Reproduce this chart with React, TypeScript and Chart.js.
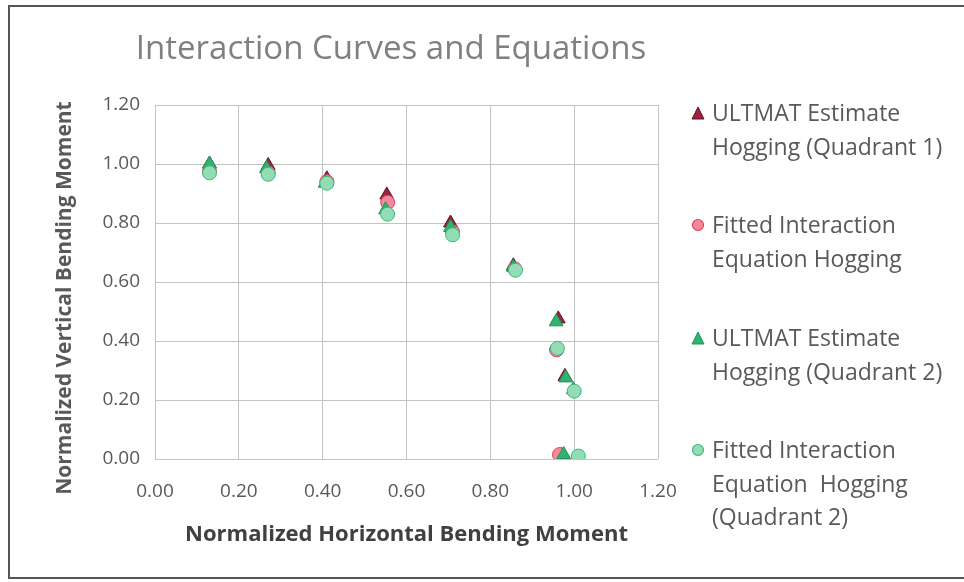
import React, { useEffect, useRef } from "react";
import { Chart, registerables } from "chart.js";

Chart.register(...registerables);

const chartTitle = "Interaction Curves and Equations";
const xAxisTitle = "Normalized Horizontal Bending Moment";
const yAxisTitle = "Normalized Vertical Bending Moment";

const axisMin = 0;
const axisMax = 1.2;
const axisStep = 0.2;

// ULTMAT Estimate Hogging (Quadrant 1)
const q1UltX = [0.13, 0.27, 0.41, 0.553, 0.705, 0.855, 0.962, 0.978, 0.97];
const q1UltY = [1.0, 0.995, 0.95, 0.895, 0.8, 0.655, 0.475, 0.28, 0.012];

// Fitted Interaction Equation Hogging
const q1FitX = [0.13, 0.27, 0.41, 0.555, 0.71, 0.858, 0.958, 0.965];
const q1FitY = [0.975, 0.97, 0.94, 0.87, 0.77, 0.645, 0.37, 0.015];

// ULTMAT Estimate Hogging (Quadrant 2)
const q2UltX = [0.13, 0.266, 0.406, 0.55, 0.705, 0.855, 0.957, 0.98, 0.998, 0.975];
const q2UltY = [1.0, 0.985, 0.935, 0.845, 0.785, 0.65, 0.465, 0.275, 0.235, 0.015];

// Fitted Interaction Equation Hogging (Quadrant 2)
const q2FitX = [0.13, 0.27, 0.41, 0.555, 0.71, 0.86, 0.96, 1.0, 1.01];
const q2FitY = [0.97, 0.965, 0.935, 0.83, 0.76, 0.64, 0.375, 0.23, 0.01];

const legendLines = [
  ["ULTMAT Estimate", "Hogging (Quadrant 1)"],
  ["Fitted Interaction", "Equation Hogging"],
  ["ULTMAT Estimate", "Hogging (Quadrant 2)"],
  ["Fitted Interaction", "Equation  Hogging", "(Quadrant 2)"],
];

const seriesFill = ["#9b2242", "#f28a9c", "#2fb36e", "#93ddb6"];
const seriesBorder = ["#5e1428", "#e0405a", "#24935a", "#3cb878"];
const seriesShape = ["triangle", "circle", "triangle", "circle"];

const FONT = "'Open Sans', 'Noto Sans', sans-serif";

function toPoints(xs: number[], ys: number[]) {
  return xs.map((x, i) => ({ x, y: ys[i] }));
}

// Draws the chart title and the vertical axis title at the positions used in the original
const textPlugin = {
  id: "placedTexts",
  afterDraw(chart: any) {
    const ctx = chart.ctx;
    ctx.save();
    ctx.textAlign = "center";
    ctx.textBaseline = "middle";
    ctx.fillStyle = "#808080";
    ctx.font = `normal 33px ${FONT}`;
    ctx.fillText(chartTitle, 391, 50);
    ctx.translate(65, 298);
    ctx.rotate(-Math.PI / 2);
    ctx.fillStyle = "#595959";
    ctx.font = `bold 21px ${FONT}`;
    ctx.fillText(yAxisTitle, 0, 0);
    ctx.restore();
  },
};

function LegendMarker({ idx }: { idx: number }) {
  const fill = seriesFill[idx];
  const stroke = seriesBorder[idx];
  return (
    <svg width="14" height="14" style={{ position: "absolute", left: -21, top: 10 }}>
      {seriesShape[idx] === "triangle" ? (
        <polygon points="7,1 13,13 1,13" fill={fill} stroke={stroke} strokeWidth="1" />
      ) : (
        <circle cx="7" cy="7" r="5.5" fill={fill} stroke={stroke} strokeWidth="1.2" />
      )}
    </svg>
  );
}

export default function App() {
  const canvasRef = useRef<HTMLCanvasElement | null>(null);

  useEffect(() => {
    if (!canvasRef.current) return;
    const series = [
      toPoints(q1UltX, q1UltY),
      toPoints(q1FitX, q1FitY),
      toPoints(q2UltX, q2UltY),
      toPoints(q2FitX, q2FitY),
    ];
    const chart = new Chart(canvasRef.current, {
      type: "scatter",
      data: {
        datasets: series.map((data, i) => ({
          label: legendLines[i].join(" "),
          data,
          pointStyle: seriesShape[i] as any,
          pointRadius: seriesShape[i] === "triangle" ? 8 : 7,
          pointBackgroundColor: seriesFill[i],
          pointBorderColor: seriesBorder[i],
          pointBorderWidth: 1,
          showLine: false,
          order: 4 - i,
        })),
      },
      plugins: [textPlugin],
      options: {
        animation: false,
        responsive: false,
        maintainAspectRatio: false,
        layout: { padding: { left: 12, right: 306, top: 105, bottom: 14 } },
        plugins: {
          legend: { display: false },
          tooltip: { enabled: false },
          title: { display: false },
        },
        scales: {
          x: {
            type: "linear",
            min: axisMin,
            max: axisMax,
            ticks: {
              stepSize: axisStep,
              callback: (v: any) => Number(v).toFixed(2),
              color: "#595959",
              font: { family: FONT, size: 19 },
              padding: 21,
            },
            grid: { color: "#c4c4c4", drawTicks: false, lineWidth: 1 },
            border: { display: false },
            title: {
              display: true,
              text: xAxisTitle,
              color: "#404040",
              font: { family: FONT, size: 22, weight: "bold" },
              padding: { top: 0, bottom: 20 },
            },
            afterFit: (s: any) => {
              s.height = 582 - 14 - 459;
            },
          },
          y: {
            type: "linear",
            min: axisMin,
            max: axisMax,
            ticks: {
              stepSize: axisStep,
              callback: (v: any) => Number(v).toFixed(2),
              color: "#595959",
              font: { family: FONT, size: 19 },
              padding: 15,
            },
            grid: { color: "#c4c4c4", drawTicks: false, lineWidth: 1 },
            border: { display: false },
            title: { display: false },
            afterFit: (s: any) => {
              s.width = 155 - 12;
            },
          },
        },
      },
    });
    return () => chart.destroy();
  }, []);

  const itemTops = [113, 225, 338, 450];
  const lineGap = 33.5;

  return (
    <div
      style={{
        position: "fixed",
        left: 0,
        top: 0,
        width: 964,
        height: 582,
        overflow: "hidden",
        background: "#ffffff",
      }}
    >
      <canvas
        ref={canvasRef}
        width={964}
        height={582}
        style={{ position: "absolute", left: 0, top: 0, width: 964, height: 582 }}
      />
      <div
        style={{
          position: "absolute",
          left: 8,
          top: 5,
          width: 1000,
          height: 570,
          borderTop: "2px solid #555",
          borderLeft: "2px solid #555",
          borderBottom: "2px solid #555",
          pointerEvents: "none",
        }}
      />
      {legendLines.map((lines, i) => (
        <div
          key={i}
          style={{
            position: "absolute",
            left: 712,
            top: itemTops[i] - lineGap / 2,
            fontFamily: FONT,
            fontSize: 23,
            color: "#595959",
            lineHeight: `${lineGap}px`,
            whiteSpace: "pre",
          }}
        >
          <LegendMarker idx={i} />
          {lines.map((t, j) => (
            <div key={j}>{t}</div>
          ))}
        </div>
      ))}
    </div>
  );
}
